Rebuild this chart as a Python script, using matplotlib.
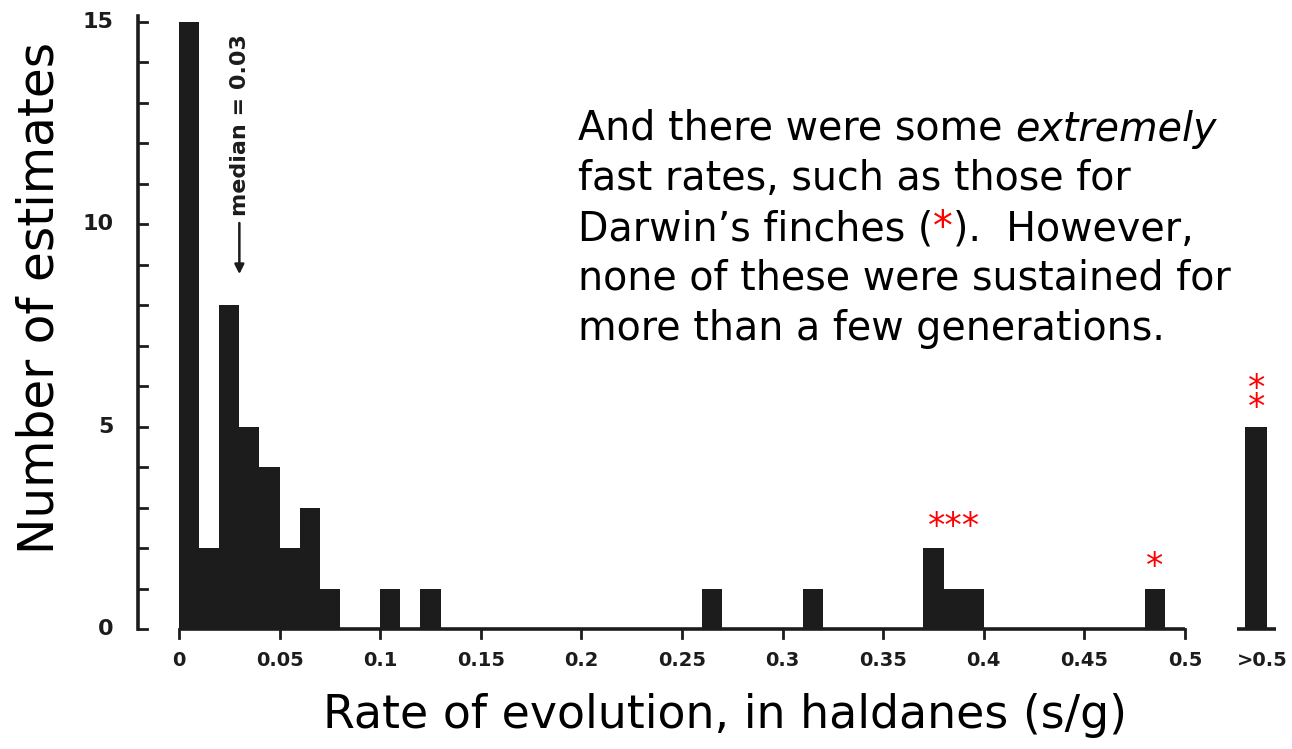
import matplotlib.pyplot as plt
import numpy as np

# histogram of rates, bins of 0.01 haldanes from 0 to 0.5
bin_width = 0.01
counts = [15, 2, 8, 5, 4, 2, 3, 1, 0, 0,
          1, 0, 1, 0, 0, 0, 0, 0, 0, 0,
          0, 0, 0, 0, 0, 0, 1, 0, 0, 0,
          0, 1, 0, 0, 0, 0, 0, 2, 1, 1,
          0, 0, 0, 0, 0, 0, 0, 0, 1, 0]
over_label = '>0.5'
over_count = 5
over_pos = 0.5355

xticks = [0, 0.05, 0.1, 0.15, 0.2, 0.25, 0.3, 0.35, 0.4, 0.45, 0.5]
xtick_labels = ['0', '0.05', '0.1', '0.15', '0.2', '0.25', '0.3', '0.35', '0.4', '0.45', '0.5']
yticks = [0, 5, 10, 15]

# red asterisks (Darwin's finches): x position, centre height of lowest star, text
star_x = [0.385, 0.485, over_pos]
star_y = [2.78, 1.78, 5.72]
star_txt = ['***', '*', '*\n*']

median = 0.03

ink = '#1c1c1c'
fig = plt.figure(figsize=(12.92, 7.49), dpi=100)
# axes placed so that x=0 -> 179px, x=0.5 -> 1185px, y=0 -> 629px, y=15 -> 22px
ax = fig.add_axes([0, 0, 1, 1])
ax.set_xlim(-179 / 2012, (1292 - 179) / 2012)
ax.set_ylim(-(749 - 629) / 40.47, 629 / 40.47)
ax.axis('off')

edges = np.arange(len(counts)) * bin_width
ax.bar(edges, counts, width=bin_width, align='edge', color=ink, linewidth=0)
ax.bar([over_pos], [over_count], width=0.011, color=ink, linewidth=0)

# baseline + x ticks
ax.plot([0, edges[-1] + bin_width], [0, 0], color=ink, lw=2.6, solid_capstyle='butt')
ax.plot([over_pos - 0.0095, over_pos + 0.0095], [0, 0], color=ink, lw=2.6, solid_capstyle='butt')
for t, lab in zip(xticks, xtick_labels):
    ax.plot([t, t], [0, -0.22], color=ink, lw=2)
    ax.text(t, -0.55, lab, ha='center', va='top', fontsize=14, fontweight='bold',
            color=ink, family='DejaVu Sans Condensed')
ax.text(over_pos + 0.003, -0.55, over_label, ha='center', va='top', fontsize=14,
        fontweight='bold', color=ink, family='DejaVu Sans Condensed')

# y axis with inward minor ticks
yx = -0.0204
ax.plot([yx, yx], [0, 15.15], color=ink, lw=2.6)
for v in range(0, 16):
    ax.plot([yx, yx + 0.0045], [v, v], color=ink, lw=2)
for v in yticks:
    ax.text(yx - 0.012, v, str(v), ha='right', va='center', fontsize=16,
            fontweight='bold', color=ink, family='DejaVu Sans Condensed')

# median arrow
ax.annotate('', xy=(median, 8.7), xytext=(median, 10.1),
            arrowprops=dict(arrowstyle='-|>', color=ink, lw=1.8, mutation_scale=14))
ax.text(median + 0.0005, 10.2, 'median = 0.03', rotation=90, ha='center', va='bottom',
        fontsize=16, fontweight='bold', color=ink, family='DejaVu Sans Condensed')

# asterisk glyph centre sits ~0.5 units above its baseline at this size
for sx, sy, st in zip(star_x, star_y, star_txt):
    ax.text(sx, sy - 0.5, st, ha='center', va='baseline', color='red', fontsize=25,
            linespacing=0.45)

# axis titles
fig.text(725 / 1292, 1 - 728 / 749, 'Rate of evolution, in haldanes (s/g)',
         ha='center', va='baseline', fontsize=33)
fig.text(40 / 1292, 1 - 298 / 749, 'Number of estimates', rotation=90,
         ha='center', va='center', fontsize=35)

# annotation text
fs = 28.5
x0 = 578 / 1292
t1 = fig.text(x0, 1 - 140 / 749, 'And there were some ', fontsize=fs, va='baseline')
ax.annotate('extremely', xy=(1, 0), xycoords=t1, va='bottom', fontsize=fs,
            style='italic', annotation_clip=False)
fig.text(x0, 1 - 190 / 749, 'fast rates, such as those for', fontsize=fs, va='baseline')
t3 = fig.text(x0, 1 - 240 / 749, 'Darwin\u2019s finches (', fontsize=fs, va='baseline')
t3b = ax.annotate('*', xy=(1, 0), xycoords=t3, va='bottom', fontsize=fs, color='red',
                  annotation_clip=False)
ax.annotate(').  However,', xy=(1, 0), xycoords=t3b, va='bottom', fontsize=fs,
            annotation_clip=False)
fig.text(x0, 1 - 290 / 749, 'none of these were sustained for', fontsize=fs, va='baseline')
fig.text(x0, 1 - 340 / 749, 'more than a few generations.', fontsize=fs, va='baseline')

fig.savefig('out.png', dpi=100)
